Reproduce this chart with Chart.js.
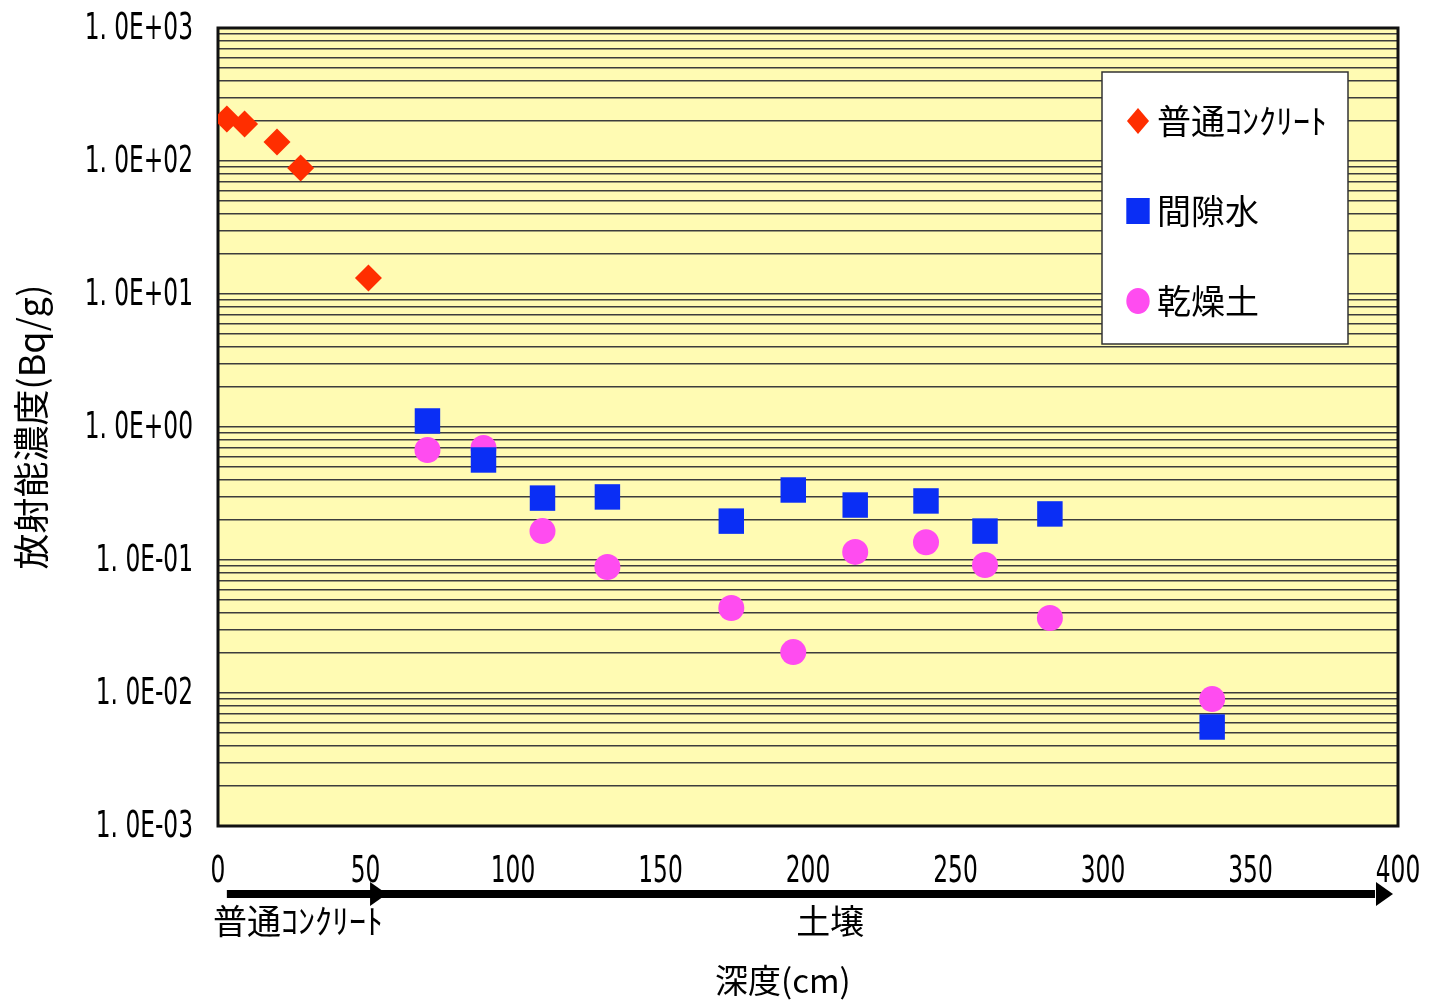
<!DOCTYPE html>
<html>
<head>
<meta charset="utf-8">
<script src="https://cdn.jsdelivr.net/npm/chart.js@4.4.1/dist/chart.umd.min.js"></script>
<style>
  html, body { margin: 0; padding: 0; background: #fff; }
  #wrap { width: 1430px; height: 1001px; }
</style>
</head>
<body>
<div id="wrap"><canvas id="chart"></canvas></div>
<script>
// series names
const seriesNames = ['普通ｺﾝｸﾘｰﾄ', '間隙水', '乾燥土'];

// concrete samples (depth cm, Bq/g)
const concreteDepth = [3, 9, 20, 28, 51];
const concreteValue = [207, 190, 139, 88.6, 13.2];

// soil samples
const soilDepth = [71, 90, 110, 132, 174, 195, 216, 240, 260, 282, 337];
const poreWaterValue = [1.11, 0.565, 0.292, 0.298, 0.196, 0.336, 0.259, 0.278, 0.165, 0.222, 0.00555];
const drySoilValue = [0.671, 0.695, 0.165, 0.0886, 0.0436, 0.0203, 0.115, 0.136, 0.0917, 0.0366, 0.0090];

// axes
const yDecades = [0.001, 0.01, 0.1, 1, 10, 100, 1000];
const yTickLabels = ['1. 0E-03', '1. 0E-02', '1. 0E-01', '1. 0E+00', '1. 0E+01', '1. 0E+02', '1. 0E+03'];
const yMinorSteps = [2, 3, 4, 5, 6, 7, 8, 9];
const xTickLabels = ['0', '50', '100', '150', '200', '250', '300', '350', '400'];
const zoneLabels = ['普通ｺﾝｸﾘｰﾄ', '土壌'];
const xTitle = '深度(cm)';
const yTitle = '放射能濃度(Bq/g)';

const numFont = "'DejaVu Sans Condensed', 'DejaVu Sans', sans-serif";
const jpFont = "'Noto Sans CJK JP', sans-serif";

const colors = ['#FF2E00', '#0A2EF5', '#FF4CF0'];
const shapes = ['rectRot', 'rect', 'circle'];

const toPoints = (xs, ys) => xs.map((x, i) => ({ x, y: ys[i] }));

const plotFrame = {
  id: 'plotFrame',
  beforeDraw(chart) {
    const { ctx, chartArea: a } = chart;
    ctx.save();
    ctx.fillStyle = '#FFFBB3';
    ctx.fillRect(a.left, a.top, a.right - a.left, a.bottom - a.top);
    ctx.restore();
  },
  beforeDatasetsDraw(chart) {
    const { ctx, chartArea: a } = chart;
    ctx.save();
    ctx.strokeStyle = '#111';
    ctx.lineWidth = 3;
    ctx.strokeRect(a.left, a.top, a.right - a.left, a.bottom - a.top);
    ctx.restore();
  }
};

// condensed tick labels, placed with the scales
const tickText = {
  id: 'tickText',
  afterDraw(chart) {
    const { ctx } = chart;
    const xs = chart.scales.x, ys = chart.scales.y;
    const squeeze = 0.7;
    ctx.save();
    ctx.fillStyle = '#000';
    ctx.font = '37px ' + numFont;
    ctx.textBaseline = 'middle';
    yDecades.forEach((d, i) => {
      const py = ys.getPixelForValue(d);
      ctx.save();
      ctx.translate(xs.left - 25, py + 1);
      ctx.scale(squeeze, 1);
      ctx.textAlign = 'right';
      ctx.fillText(yTickLabels[i], 0, 0);
      ctx.restore();
    });
    xs.ticks.forEach((t, i) => {
      const px = xs.getPixelForValue(t.value);
      ctx.save();
      ctx.translate(px, xs.top + 46);
      ctx.scale(squeeze, 1);
      ctx.textAlign = 'center';
      ctx.fillText(xTickLabels[i], 0, 0);
      ctx.restore();
    });
    ctx.restore();
  }
};

function drawMarker(ctx, shape, x, y, r) {
  ctx.beginPath();
  if (shape === 'rectRot') {
    ctx.moveTo(x, y - r); ctx.lineTo(x + r * 0.85, y); ctx.lineTo(x, y + r); ctx.lineTo(x - r * 0.85, y);
    ctx.closePath();
  } else if (shape === 'rect') {
    ctx.rect(x - r * 0.9, y - r, r * 1.8, r * 2);
  } else {
    ctx.ellipse(x, y, r * 0.9, r, 0, 0, Math.PI * 2);
  }
  ctx.fill();
}

const insideLegend = {
  id: 'insideLegend',
  afterDraw(chart) {
    const { ctx, chartArea: a } = chart;
    const left = a.right - 296, top = a.top + 44, w = 246, h = 272;
    ctx.save();
    ctx.fillStyle = '#fff';
    ctx.fillRect(left, top, w, h);
    ctx.strokeStyle = '#333';
    ctx.lineWidth = 1.5;
    ctx.strokeRect(left, top, w, h);
    ctx.font = '34px ' + jpFont;
    ctx.textBaseline = 'middle';
    seriesNames.forEach((name, i) => {
      const cy = top + 49 + i * 90;
      ctx.fillStyle = colors[i];
      drawMarker(ctx, shapes[i], left + 36, cy, 13);
      ctx.fillStyle = '#000';
      ctx.fillText(name, left + 55, cy);
    });
    ctx.restore();
  }
};

const depthArrows = {
  id: 'depthArrows',
  afterDraw(chart) {
    const { ctx } = chart;
    const xs = chart.scales.x;
    const y = xs.top + 68;
    const p0 = xs.getPixelForValue(3);
    const p1 = xs.getPixelForValue(57.3);
    const p2 = xs.getPixelForValue(398.3);
    ctx.save();
    ctx.fillStyle = '#000';
    ctx.fillRect(p0, y - 4, p2 - 18 - p0, 8);
    [p1, p2].forEach(tip => {
      ctx.beginPath();
      ctx.moveTo(tip, y);
      ctx.lineTo(tip - 17, y - 12);
      ctx.lineTo(tip - 17, y + 12);
      ctx.closePath();
      ctx.fill();
    });
    ctx.font = '34px ' + jpFont;
    ctx.textBaseline = 'middle';
    ctx.textAlign = 'left';
    ctx.fillText(zoneLabels[0], xs.getPixelForValue(-1.7), y + 27);
    ctx.textAlign = 'center';
    ctx.fillText(zoneLabels[1], xs.getPixelForValue(207.5), y + 27);
    ctx.font = '33px ' + jpFont;
    ctx.fillText(xTitle, xs.getPixelForValue(191.5), y + 86);
    ctx.restore();
  }
};

new Chart(document.getElementById('chart'), {
  type: 'scatter',
  data: {
    datasets: [
      { label: seriesNames[0], data: toPoints(concreteDepth, concreteValue), pointStyle: 'rectRot', pointRadius: 13.5, backgroundColor: colors[0], borderWidth: 0 },
      { label: seriesNames[1], data: toPoints(soilDepth, poreWaterValue), pointStyle: 'rect', pointRadius: 18, backgroundColor: colors[1], borderWidth: 0 },
      { label: seriesNames[2], data: toPoints(soilDepth, drySoilValue), pointStyle: 'circle', pointRadius: 13, backgroundColor: colors[2], borderWidth: 0 }
    ]
  },
  options: {
    responsive: true,
    maintainAspectRatio: false,
    animation: false,
    layout: { padding: { top: 28, right: 32, left: 0, bottom: 0 } },
    plugins: {
      legend: { display: false },
      tooltip: { enabled: false }
    },
    scales: {
      x: {
        type: 'linear',
        min: 0, max: 400,
        ticks: { stepSize: 50, display: false },
        grid: { display: false },
        border: { display: false },
        afterFit(scale) {
          scale.height = 175;
          scale.paddingLeft = 0; scale.paddingRight = 0;
        }
      },
      y: {
        type: 'logarithmic',
        min: 0.001, max: 1000,
        afterBuildTicks(scale) {
          const ticks = [];
          yDecades.forEach((d, i) => {
            ticks.push({ value: d, major: true });
            if (i < yDecades.length - 1) yMinorSteps.forEach(m => ticks.push({ value: d * m, major: false }));
          });
          scale.ticks = ticks;
        },
        ticks: { display: false, autoSkip: false },
        grid: { color: '#3c3c3c', lineWidth: 1.5, drawTicks: false },
        border: { display: false },
        title: { display: true, text: yTitle, color: '#000', font: { family: jpFont, size: 36 }, padding: { top: 10 } },
        afterFit(scale) {
          scale.width = 218;
          scale.paddingTop = 0; scale.paddingBottom = 0;
        }
      }
    }
  },
  plugins: [plotFrame, tickText, insideLegend, depthArrows]
});
</script>
</body>
</html>
